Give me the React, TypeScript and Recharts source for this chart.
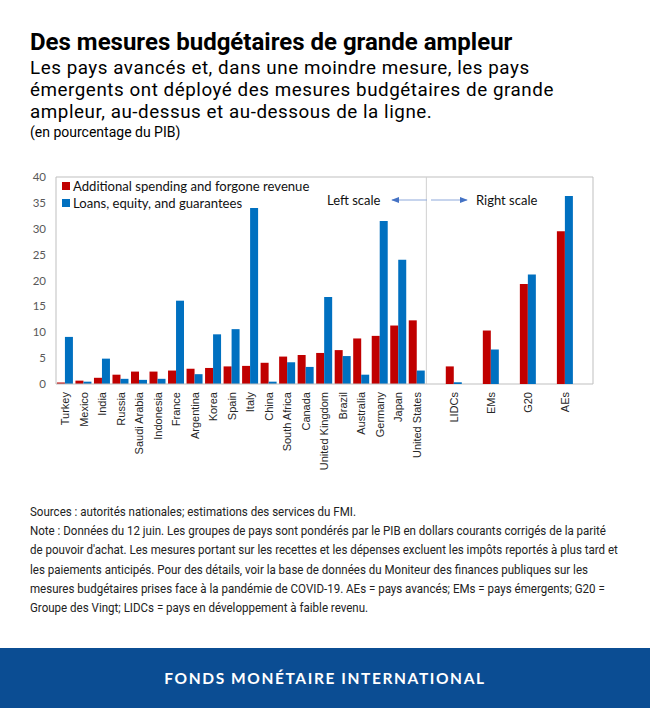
import React from 'react';
import { BarChart, Bar, XAxis, YAxis, Legend, ReferenceLine } from 'recharts';

const countries = ['Turkey', 'Mexico', 'India', 'Russia', 'Saudi Arabia', 'Indonesia', 'France', 'Argentina', 'Korea', 'Spain', 'Italy', 'China', 'South Africa', 'Canada', 'United Kingdom', 'Brazil', 'Australia', 'Germany', 'Japan', 'United States'];
const spending = [0.3, 0.65, 1.2, 1.8, 2.4, 2.4, 2.6, 2.95, 3.1, 3.4, 3.5, 4.1, 5.3, 5.6, 6.0, 6.55, 8.8, 9.3, 11.3, 12.3];
const loans = [9.1, 0.45, 4.9, 1.0, 0.8, 1.0, 16.1, 1.9, 9.6, 10.6, 34.0, 0.45, 4.2, 3.3, 16.8, 5.4, 1.8, 31.5, 24.0, 2.6];

const groups = ['LIDCs', 'EMs', 'G20', 'AEs'];
const groupSpending = [1.02, 3.1, 5.8, 8.85];
const groupLoans = [0.1, 2.0, 6.35, 10.9];

const leftTicks = [0, 5, 10, 15, 20, 25, 30, 35, 40];
const rightTicks = [0, 2, 4, 6, 8, 10, 12];

const seriesNames = ['Additional spending and forgone revenue', 'Loans, equity, and guarantees'];

const RED = '#C00000';
const BLUE = '#0070C0';
const FRAME = '#BFBFBF';

// countries, then each group sits between empty spacer slots
type Row = { name: string; spending?: number; loans?: number; gSpending?: number; gLoans?: number };
const rows: Row[] = countries.map((c, i) => ({ name: c, spending: spending[i], loans: loans[i] }));
rows.push({ name: '_0' });
groups.forEach((g, i) => {
  rows.push({ name: g, gSpending: groupSpending[i], gLoans: groupLoans[i] });
  rows.push({ name: '_' + (i + 1) });
});

const CW = 650;
const CH = 340;
const margin = { top: 17, right: 17, bottom: 0, left: 16 };

const XTick = (props: any) => {
  const { x, y, payload } = props;
  if (String(payload.value).startsWith('_')) return null;
  return (
    <text
      x={x}
      y={y}
      dy="0.35em"
      transform={`rotate(-90, ${x}, ${y})`}
      textAnchor="end"
      fontFamily="'Liberation Sans', Arial, sans-serif"
      fontSize={11}
      fill="#262626"
    >
      {payload.value}
    </text>
  );
};

const LegendBox = () => (
  <div style={{ fontFamily: 'Lato, sans-serif', fontSize: 13.1, color: '#111' }}>
    {seriesNames.map((n, i) => (
      <div key={n} style={{ display: 'flex', alignItems: 'center', height: 17.5 }}>
        <span style={{ width: 8, height: 8, background: i === 0 ? RED : BLUE, marginRight: 3, display: 'inline-block' }} />
        <span>{n}</span>
      </div>
    ))}
  </div>
);

const tickStyle = { fill: '#595959', fontSize: 11.5, fontFamily: 'Lato, sans-serif' };

function CountryChart() {
  return (
    <BarChart width={CW} height={CH} data={rows} margin={margin} barCategoryGap="5%" barGap={0}>
      <XAxis
        dataKey="name"
        interval={0}
        height={116}
        tickLine={false}
        tickSize={0}
        tickMargin={8}
        axisLine={{ stroke: FRAME }}
        tick={<XTick />}
      />
      <YAxis
        yAxisId="left"
        domain={[0, 40]}
        ticks={leftTicks}
        width={40}
        tickLine={false}
        tickSize={0}
        tickMargin={10}
        axisLine={{ stroke: FRAME }}
        tick={tickStyle}
      />
      <YAxis
        yAxisId="right"
        orientation="right"
        domain={[0, 12]}
        ticks={rightTicks}
        width={40}
        tickLine={false}
        tickSize={0}
        tickMargin={10}
        axisLine={{ stroke: FRAME }}
        tick={tickStyle}
      />
      <ReferenceLine yAxisId="left" y={40} stroke={FRAME} />
      <ReferenceLine yAxisId="left" x="_0" position="start" stroke="#D0D0D0" />
      <Legend
        layout="horizontal"
        verticalAlign="middle"
        align="center"
        content={<LegendBox />}
        wrapperStyle={{ top: 17, left: 62, width: 300, height: 36 }}
      />
      <Bar yAxisId="left" dataKey="spending" name={seriesNames[0]} fill={RED} isAnimationActive={false} />
      <Bar yAxisId="left" dataKey="loans" name={seriesNames[1]} fill={BLUE} isAnimationActive={false} />
    </BarChart>
  );
}

function GroupChart() {
  return (
    <BarChart width={CW} height={CH} data={rows} margin={margin} barCategoryGap="5%" barGap={0}>
      <XAxis dataKey="name" interval={0} height={116} tick={false} tickLine={false} axisLine={false} />
      <YAxis yAxisId="left" domain={[0, 40]} width={40} tick={false} tickLine={false} axisLine={false} />
      <YAxis yAxisId="right" orientation="right" domain={[0, 12]} ticks={rightTicks} width={40} tick={false} tickLine={false} axisLine={false} />
      <Bar yAxisId="right" dataKey="gSpending" fill={RED} isAnimationActive={false} />
      <Bar yAxisId="right" dataKey="gLoans" fill={BLUE} isAnimationActive={false} />
    </BarChart>
  );
}

export default function App() {
  return (
    <div style={{ position: 'absolute', left: 0, top: 0, width: 650, height: 708, background: '#fff', overflow: 'hidden', fontFamily: 'Roboto, sans-serif' }}>
      <div style={{ position: 'absolute', left: 30, top: 30, fontSize: 24, fontWeight: 700, lineHeight: '24px', color: '#000', whiteSpace: 'nowrap' }}>
        Des mesures budgétaires de grande ampleur
      </div>
      <div style={{ position: 'absolute', left: 30, top: 57, fontSize: 18.8, letterSpacing: 0.55, lineHeight: '22px', color: '#000', whiteSpace: 'nowrap' }}>
        <div>Les pays avancés et, dans une moindre mesure, les pays</div>
        <div>émergents ont déployé des mesures budgétaires de grande</div>
        <div>ampleur, au-dessus et au-dessous de la ligne.</div>
      </div>
      <div style={{ position: 'absolute', left: 30, top: 124.5, fontSize: 14, lineHeight: '14px', color: '#000' }}>
        (en pourcentage du PIB)
      </div>

      <div style={{ position: 'absolute', left: 0, top: 160, width: CW, height: CH }}>
        <div style={{ position: 'absolute', left: 0, top: 0 }}>
          <CountryChart />
        </div>
        <div style={{ position: 'absolute', left: 0, top: 0 }}>
          <GroupChart />
        </div>
        <svg width={CW} height={60} style={{ position: 'absolute', left: 0, top: 20, pointerEvents: 'none' }}>
          <defs>
            <marker id="ah" viewBox="0 0 10 10" refX="9" refY="5" markerWidth="8" markerHeight="8" orient="auto-start-reverse">
              <path d="M0,1 L10,5 L0,9 z" fill="#4472C4" />
            </marker>
          </defs>
          <text x={327} y={20} dy="0.35em" fontFamily="Lato, sans-serif" fontSize={13} fill="#111">Left scale</text>
          <line x1={427} y1={20} x2={392} y2={20} stroke="#8EA9DB" strokeWidth={1} markerEnd="url(#ah)" />
          <line x1={431} y1={20} x2={467} y2={20} stroke="#8EA9DB" strokeWidth={1} markerEnd="url(#ah)" />
          <text x={476} y={20} dy="0.35em" fontFamily="Lato, sans-serif" fontSize={13} fill="#111">Right scale</text>
        </svg>
      </div>

      <div style={{ position: 'absolute', left: 30, top: 502, fontSize: 13, lineHeight: '19.2px', color: '#222', whiteSpace: 'nowrap', transform: 'scaleX(0.888)', transformOrigin: 'left top' }}>
        <div>Sources : autorités nationales; estimations des services du FMI.</div>
        <div>Note : Données du 12 juin. Les groupes de pays sont pondérés par le PIB en dollars courants corrigés de la parité</div>
        <div>de pouvoir d'achat. Les mesures portant sur les recettes et les dépenses excluent les impôts reportés à plus tard et</div>
        <div>les paiements anticipés. Pour des détails, voir la base de données du Moniteur des finances publiques sur les</div>
        <div>mesures budgétaires prises face à la pandémie de COVID-19. AEs = pays avancés; EMs = pays émergents; G20 =</div>
        <div>Groupe des Vingt; LIDCs = pays en développement à faible revenu.</div>
      </div>

      <div style={{ position: 'absolute', left: 0, top: 648, width: 650, height: 60, background: '#0B4D93', display: 'flex', alignItems: 'center', justifyContent: 'center' }}>
        <span style={{ color: '#fff', fontFamily: 'Lato, sans-serif', fontWeight: 700, fontSize: 15.5, letterSpacing: 1.6 }}>
          FONDS MONÉTAIRE INTERNATIONAL
        </span>
      </div>
    </div>
  );
}
